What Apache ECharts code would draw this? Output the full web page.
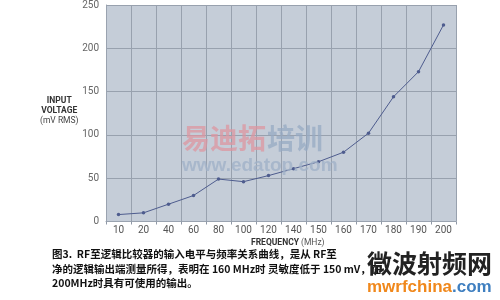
<!DOCTYPE html>
<html><head><meta charset="utf-8">
<script src="https://cdn.jsdelivr.net/npm/echarts@6/dist/echarts.min.js"></script>
<style>html,body{margin:0;padding:0;background:#fff}#c{width:500px;height:300px}</style>
</head><body><div id="c"></div>
<script>
const categories = ['10','20','40','60','80','100','120','140','150','160','170','180','190','200'];
const inputVoltage = [8, 10, 20, 30, 49, 46, 53, 61, 69, 80, 102, 144, 173, 227];
const yTicks = {min: 0, max: 250, interval: 50};
const captionLines = [
  '图3.  RF至逻辑比较器的输入电平与频率关系曲线，是从 RF至',
  '净的逻辑输出端测量所得，表明在 160 MHz时 灵敏度低于 150 mV，在',
  '200MHz时具有可使用的输出。'
];

const chart = echarts.init(document.getElementById('c'));
const cjk = '"Noto Sans CJK SC", sans-serif';
chart.setOption({
  animation: false,
  backgroundColor: '#ffffff',
  grid: {left: 106, right: 44, top: 2, bottom: 78.5, show: true, backgroundColor: '#c5cdd8', borderWidth: 0},
  xAxis: {
    type: 'category', data: categories, boundaryGap: true,
    axisLine: {lineStyle: {color: '#9aa3b0', width: 1}},
    axisTick: {show: true, alignWithLabel: false, length: 3, lineStyle: {color: '#8f98a6'}},
    axisLabel: {color: '#555', fontSize: 10, fontFamily: 'Roboto, sans-serif', margin: 4, interval: 0},
    splitLine: {show: true, interval: 0, lineStyle: {color: '#98a1ae', width: 1}}
  },
  yAxis: {
    type: 'value', min: yTicks.min, max: yTicks.max, interval: yTicks.interval,
    axisLine: {show: true, lineStyle: {color: '#9aa3b0'}},
    axisTick: {show: false},
    axisLabel: {color: '#666', fontSize: 10, fontFamily: 'Roboto, sans-serif', margin: 7},
    splitLine: {show: true, lineStyle: {color: '#98a1ae', width: 1}}
  },
  graphic: [
    {type: 'group', left: 40, top: 96, children: [
      {type: 'text', x: 23, y: 0, style: {text: 'INPUT', fill: '#333', font: 'bold 8.5px Roboto, sans-serif', textAlign: 'center'}},
      {type: 'text', x: 23, y: 10, style: {text: 'VOLTAGE', fill: '#333', font: 'bold 8.5px Roboto, sans-serif', textAlign: 'center'}},
      {type: 'text', x: 23, y: 20, style: {text: '(mV RMS)', fill: '#444', font: '8.5px Roboto, sans-serif', textAlign: 'center'}}
    ]},
    {type: 'text', left: 251, top: 238, style: {text: 'FREQUENCY', fill: '#333', font: 'bold 8.5px Roboto, sans-serif'}},
    {type: 'text', left: 301, top: 238, style: {text: '(MHz)', fill: '#555', font: '8.5px Roboto, sans-serif'}},
    {type: 'text', left: 182, top: 124, z: 50, style: {text: '易迪拓', fill: 'rgba(220,150,160,0.75)', font: 'bold 28px ' + cjk}},
    {type: 'text', left: 267, top: 124, z: 50, style: {text: '培训', fill: 'rgba(150,170,195,0.75)', font: 'bold 28px ' + cjk}},
    {type: 'text', left: 182, top: 156, z: 50, style: {text: 'www.edatop.com', fill: 'rgba(160,178,200,0.8)', font: 'bold 19px "Liberation Sans", sans-serif'}},
    {type: 'text', left: 52, top: 249, style: {text: captionLines[0], fill: '#111', font: 'bold 10.5px ' + cjk}},
    {type: 'text', left: 52, top: 264, style: {text: captionLines[1], fill: '#111', font: 'bold 10.5px ' + cjk}},
    {type: 'text', left: 52, top: 278, style: {text: captionLines[2], fill: '#111', font: 'bold 10.5px ' + cjk}},
    {type: 'text', left: 367, top: 251, z: 60, style: {text: '微波射频网', fill: '#222', font: 'bold 25px ' + cjk}},
    {type: 'text', left: 367, top: 279, z: 60, style: {
      text: '{a|mwrfchina}{b|.com}',
      rich: {
        a: {fill: '#f0881c', font: 'bold 17px "Liberation Sans", sans-serif'},
        b: {fill: '#3f7fc0', font: 'bold 17px "Liberation Sans", sans-serif'}
      }
    }}
  ],
  series: [{
    type: 'line', data: inputVoltage,
    lineStyle: {color: '#4e5c8e', width: 1},
    itemStyle: {color: '#4e5c8e'},
    symbol: 'circle', symbolSize: 3.5, showSymbol: true
  }]
});
</script></body></html>
